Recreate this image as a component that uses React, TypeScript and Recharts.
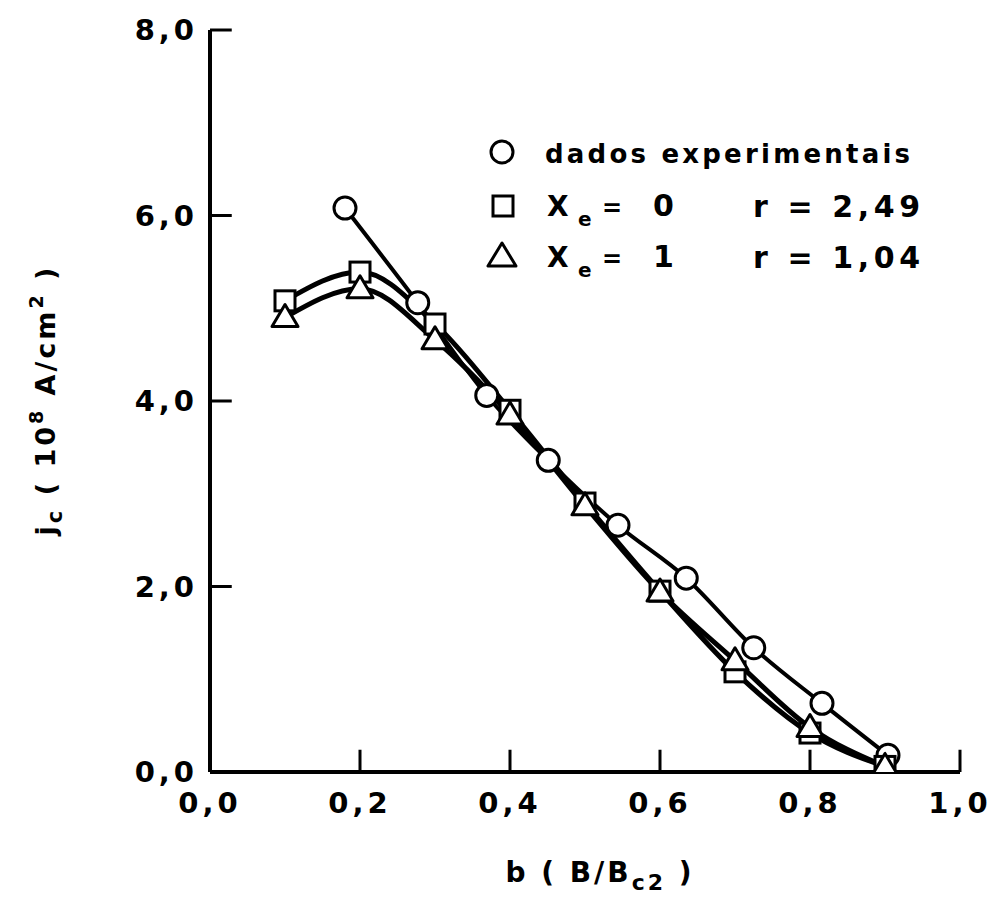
import React from "react";
import { LineChart, Line, XAxis, YAxis, ReferenceLine, Legend } from "recharts";

const bExp = [0.18, 0.277, 0.369, 0.451, 0.544, 0.635, 0.725, 0.816, 0.904];
const jExp = [6.08, 5.06, 4.06, 3.36, 2.66, 2.09, 1.34, 0.74, 0.18];
const bModel = [0.1, 0.2, 0.3, 0.4, 0.5, 0.6, 0.7, 0.8, 0.9];
const jXe0 = [5.08, 5.39, 4.83, 3.9, 2.9, 1.95, 1.08, 0.42, 0.06];
const jXe1 = [4.9, 5.21, 4.66, 3.85, 2.87, 1.94, 1.2, 0.48, 0.06];
const xTicks = [0, 0.2, 0.4, 0.6, 0.8, 1.0];
const yTicks = [0, 2, 4, 6, 8];

const expData = bExp.map((b, i) => ({ b, j: jExp[i] }));
const xe0Data = bModel.map((b, i) => ({ b, j: jXe0[i] }));
const xe1Data = bModel.map((b, i) => ({ b, j: jXe1[i] }));

const FONT = "'DejaVu Sans', sans-serif";
const fmt = (v: number) => v.toFixed(1).replace(".", ",");

const CircleDot = (p: any) => (
  <circle key={`c${p.index}`} cx={p.cx} cy={p.cy} r={11} fill="#fff" stroke="#000" strokeWidth={3} />
);
const SquareDot = (p: any) => (
  <rect key={`s${p.index}`} x={p.cx - 10} y={p.cy - 10} width={20} height={20} fill="#fff" stroke="#000" strokeWidth={3} />
);
const TriDot = (p: any) => (
  <polygon
    key={`t${p.index}`}
    points={`${p.cx},${p.cy - 13} ${p.cx - 13},${p.cy + 9} ${p.cx + 13},${p.cy + 9}`}
    fill="#fff"
    stroke="#000"
    strokeWidth={3}
    strokeLinejoin="round"
  />
);

const textStyle: React.CSSProperties = { fontFamily: FONT, fontWeight: "bold", fill: "#000" };

const LegendContent = () => (
  <svg width={480} height={170} style={{ display: "block" }}>
    <circle cx={32} cy={32} r={11} fill="#fff" stroke="#000" strokeWidth={3} />
    <text x={75} y={43} fontSize={26} style={textStyle} textLength={365} lengthAdjust="spacing">
      dados experimentais
    </text>
    <rect x={23} y={76} width={20} height={20} fill="#fff" stroke="#000" strokeWidth={3} />
    <text x={77} y={96} fontSize={28} style={textStyle}>X</text>
    <text x={108} y={106} fontSize={20} style={textStyle}>e</text>
    <text x={132} y={96} fontSize={24} style={textStyle}>=</text>
    <text x={183} y={96} fontSize={30} style={textStyle}>0</text>
    <text x={283} y={97} fontSize={30} style={textStyle} textLength={167} lengthAdjust="spacing">r = 2,49</text>
    <polygon points="32,123 18,146 46,146" fill="#fff" stroke="#000" strokeWidth={3} strokeLinejoin="round" />
    <text x={77} y={147} fontSize={28} style={textStyle}>X</text>
    <text x={108} y={157} fontSize={20} style={textStyle}>e</text>
    <text x={132} y={147} fontSize={24} style={textStyle}>=</text>
    <text x={183} y={147} fontSize={30} style={textStyle}>1</text>
    <text x={283} y={148} fontSize={30} style={textStyle} textLength={167} lengthAdjust="spacing">r = 1,04</text>
  </svg>
);

const XLabel = () => (
  <text x={600} y={882} textAnchor="middle" fontSize={28} style={textStyle} letterSpacing={3}>
    b ( B/B<tspan dy={8} fontSize={22}>c2</tspan><tspan dy={-8}> )</tspan>
  </text>
);

const YLabel = () => (
  <text
    x={55}
    y={400}
    transform="rotate(-90, 55, 400)"
    textAnchor="middle"
    fontSize={27}
    style={textStyle}
    letterSpacing={3}
  >
    j<tspan dy={7} fontSize={21}>c</tspan>
    <tspan dy={-7}> ( 10</tspan>
    <tspan dy={-12} fontSize={19}>8</tspan>
    <tspan dy={12}> A/cm</tspan>
    <tspan dy={-12} fontSize={19}>2</tspan>
    <tspan dy={12}> )</tspan>
  </text>
);

export default function App() {
  const tickStyle = { fontSize: 29, fontWeight: "bold", fill: "#000", fontFamily: FONT, letterSpacing: 4 } as any;
  return (
    <div style={{ position: "absolute", left: 0, top: 0, background: "#fff" }}>
      <LineChart width={994} height={904} margin={{ top: 30, right: 34, bottom: 128, left: 206 }}>
        <XAxis
          type="number"
          dataKey="b"
          domain={[0, 1]}
          ticks={xTicks}
          tickFormatter={fmt}
          tickSize={0}
          tickMargin={20}
          height={4}
          axisLine={{ stroke: "#000", strokeWidth: 4 }}
          tickLine={false}
          tick={tickStyle}
          allowDataOverflow
          label={<XLabel />}
        />
        <YAxis
          type="number"
          dataKey="j"
          domain={[0, 8]}
          ticks={yTicks}
          tickFormatter={fmt}
          tickSize={0}
          tickMargin={12}
          width={4}
          axisLine={{ stroke: "#000", strokeWidth: 4 }}
          tickLine={false}
          tick={tickStyle}
          allowDataOverflow
          label={<YLabel />}
        />
        {xTicks.slice(1).map((t) => (
          <ReferenceLine
            key={`xt${t}`}
            segment={[{ x: t, y: 0 }, { x: t, y: 0.24 }]}
            stroke="#000"
            strokeWidth={3}
            ifOverflow="visible"
          />
        ))}
        {yTicks.slice(1).map((t) => (
          <ReferenceLine
            key={`yt${t}`}
            segment={[{ x: 0, y: t }, { x: 0.029, y: t }]}
            stroke="#000"
            strokeWidth={3}
            ifOverflow="visible"
          />
        ))}
        <Legend
          layout="vertical"
          align="center"
          verticalAlign="middle"
          content={<LegendContent />}
          wrapperStyle={{ left: 470, top: 120, width: 480, height: 170 }}
        />
        <Line
          data={expData}
          dataKey="j"
          type="monotone"
          stroke="#000"
          strokeWidth={4}
          dot={CircleDot}
          isAnimationActive={false}
          legendType="circle"
          name="dados experimentais"
        />
        <Line
          data={xe0Data}
          dataKey="j"
          type="monotone"
          stroke="#000"
          strokeWidth={5}
          dot={SquareDot}
          isAnimationActive={false}
          legendType="square"
          name="Xe = 0"
        />
        <Line
          data={xe1Data}
          dataKey="j"
          type="monotone"
          stroke="#000"
          strokeWidth={5}
          dot={TriDot}
          isAnimationActive={false}
          legendType="triangle"
          name="Xe = 1"
        />
      </LineChart>
    </div>
  );
}
